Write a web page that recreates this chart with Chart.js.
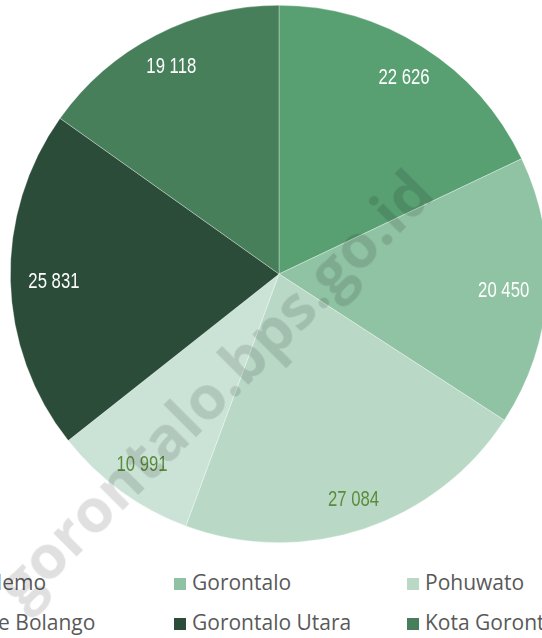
<!DOCTYPE html>
<html>
<head>
<meta charset="utf-8">
<script src="https://cdn.jsdelivr.net/npm/chart.js@4/dist/chart.umd.min.js"></script>
<style>
  html, body { margin:0; padding:0; width:542px; height:638px; overflow:hidden; background:#fff; }
  #wrap { position:absolute; left:0; top:0; width:558px; height:548px; }
  #legend { position:absolute; left:-59px; top:569px; width:720px; display:grid; grid-template-columns:233px 233px 233px; row-gap:14px;
    font-family:"Open Sans","Noto Sans",sans-serif; font-size:21px; color:#595959; }
  .li { display:flex; align-items:center; height:26px; white-space:nowrap; }
  .bx { width:12px; height:12px; margin-right:6px; margin-top:3px; flex:none; }
  #wm { position:absolute; left:213px; top:387px; transform:translate(-50%,-50%) rotate(-45deg);
    font-family:"Open Sans","Liberation Sans",sans-serif; font-weight:700; font-size:61px; color:rgba(0,0,0,0.12);
    white-space:nowrap; pointer-events:none; }
</style>
</head>
<body>
<div id="wrap"><canvas id="c" width="558" height="548"></canvas></div>
<div id="legend"></div>
<div id="wm">gorontalo.bps.go.id</div>
<script>
const categories = ["Boalemo", "Gorontalo", "Pohuwato", "Bone Bolango", "Gorontalo Utara", "Kota Gorontalo"];
const values = [22626, 20450, 27084, 10991, 25831, 19118];
const sliceColors = ["#58a072", "#8fc3a3", "#b9d9c6", "#cbe3d6", "#2b4c38", "#477f5b"];
const labelColors = ["#ffffff", "#ffffff", "#5b8c3c", "#5b8c3c", "#ffffff", "#ffffff"];

function fmt(v) { return String(v).replace(/\B(?=(\d{3})+(?!\d))/g, " "); }

const labelPlugin = {
  id: 'sliceLabels',
  afterDatasetsDraw(chart) {
    const ctx = chart.ctx;
    const meta = chart.getDatasetMeta(0);
    meta.data.forEach((arc, i) => {
      const p = arc.getProps(['x','y','startAngle','endAngle','outerRadius'], true);
      const a = (p.startAngle + p.endAngle) / 2;
      const c = Math.cos(a), s = Math.sin(a);
      const rx = p.outerRadius * 0.838, ry = p.outerRadius * 0.885;
      const r = 1 / Math.sqrt((c / rx) * (c / rx) + (s / ry) * (s / ry));
      const x = p.x + c * r;
      const y = p.y + s * r + 2;
      ctx.save();
      ctx.translate(x, y);
      ctx.scale(0.76, 1);
      ctx.font = '22px "Liberation Sans", Arial, sans-serif';
      ctx.textAlign = 'center';
      ctx.textBaseline = 'middle';
      ctx.fillStyle = labelColors[i];
      ctx.fillText(fmt(values[i]), 0, 0);
      ctx.restore();
    });
  }
};

new Chart(document.getElementById('c'), {
  type: 'pie',
  data: {
    labels: categories,
    datasets: [{
      data: values,
      backgroundColor: sliceColors,
      borderColor: 'rgba(255,255,255,0.45)',
      borderWidth: 0.7
    }]
  },
  options: {
    responsive: false,
    animation: false,
    layout: { padding: { top: 5, bottom: 5, left: 10, right: 10 } },
    plugins: { legend: { display: false }, tooltip: { enabled: false } }
  },
  plugins: [labelPlugin]
});

const lg = document.getElementById('legend');
categories.forEach((c, i) => {
  const d = document.createElement('div');
  d.className = 'li';
  const b = document.createElement('span');
  b.className = 'bx';
  b.style.background = sliceColors[i];
  d.appendChild(b);
  d.appendChild(document.createTextNode(c));
  lg.appendChild(d);
});
</script>
</body>
</html>
